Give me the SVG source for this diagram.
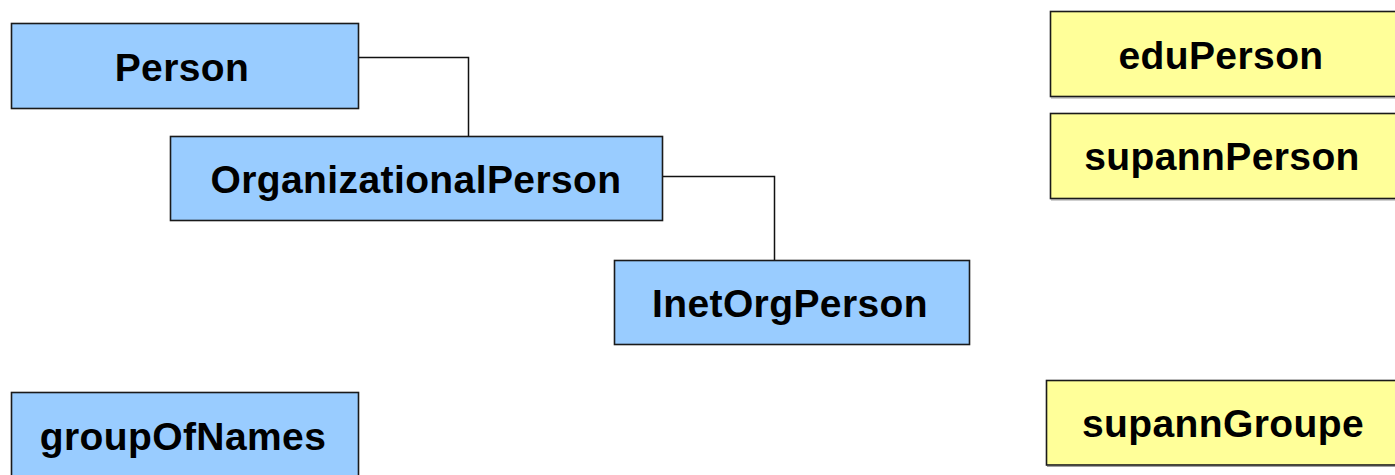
<svg xmlns="http://www.w3.org/2000/svg" width="1395" height="475" viewBox="0 0 1395 475">
<style>
.blue{fill:#99ccff;stroke:#1a1a1a;stroke-width:1.6}
.yellow{fill:#ffff99;stroke:#1a1a1a;stroke-width:1.6}
.shadow{fill:none;stroke:#a0a0a0;stroke-width:1.2}
.lbl{font-family:"Liberation Sans",Arial,sans-serif;font-weight:bold;font-size:39px;letter-spacing:0.4px;fill:#000;text-anchor:middle}
.conn{fill:none;stroke:#111;stroke-width:1.5}
</style>
<rect width="1395" height="475" fill="#fff"/>
<g id="connectors">
<path class="conn" d="M356,57.5 H468.5 V137"/>
<path class="conn" d="M660,176.5 H774.5 V260"/>
</g>
<g id="person">
<rect class="blue" x="11.5" y="23.5" width="347" height="85"/>
<text class="lbl" x="182" y="81">Person</text>
</g>
<g id="organizationalPerson">
<rect class="blue" x="170.5" y="136.5" width="492" height="84"/>
<text class="lbl" x="416" y="193">OrganizationalPerson</text>
</g>
<g id="inetOrgPerson">
<rect class="blue" x="614.5" y="260.5" width="355" height="84"/>
<text class="lbl" x="790" y="316.5">InetOrgPerson</text>
</g>
<g id="groupOfNames">
<rect class="blue" x="11.5" y="392.5" width="347" height="90"/>
<text class="lbl" x="183" y="449.5">groupOfNames</text>
</g>
<g id="eduPerson">
<line class="shadow" x1="1051" y1="98" x2="1395" y2="98"/>
<rect class="yellow" x="1050.5" y="11.5" width="350" height="85"/>
<text class="lbl" x="1221" y="69">eduPerson</text>
</g>
<g id="supannPerson">
<line class="shadow" x1="1051" y1="200" x2="1395" y2="200"/>
<rect class="yellow" x="1050.5" y="113.5" width="350" height="85"/>
<text class="lbl" x="1222" y="169.5">supannPerson</text>
</g>
<g id="supannGroupe">
<line class="shadow" x1="1047" y1="466.5" x2="1395" y2="466.5"/>
<rect class="yellow" x="1046.5" y="380.5" width="360" height="84.5"/>
<text class="lbl" x="1223" y="437">supannGroupe</text>
</g>
</svg>
